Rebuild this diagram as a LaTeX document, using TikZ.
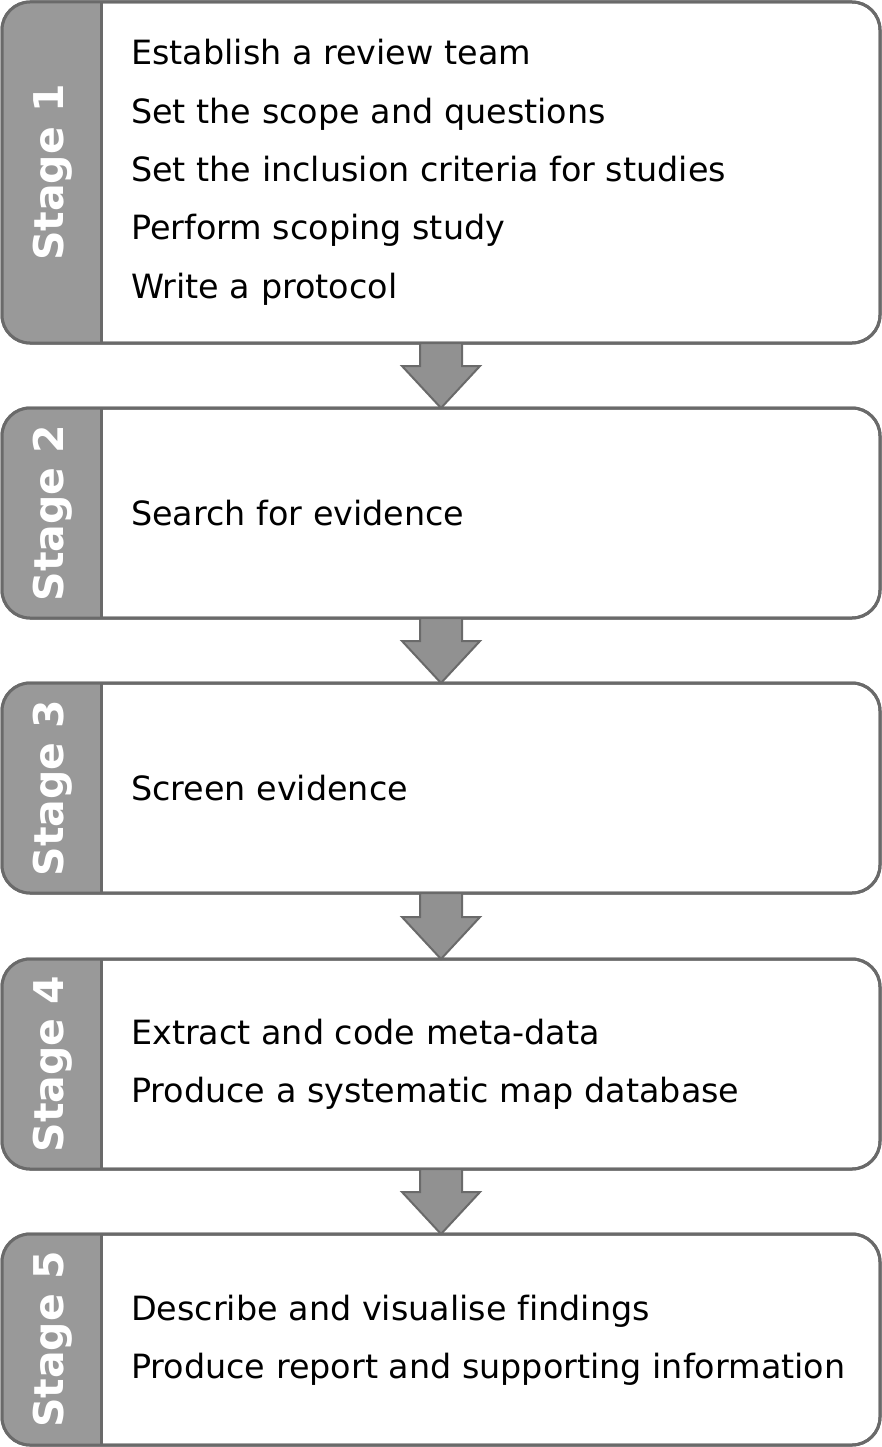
\documentclass[tikz,border=0pt]{standalone}
\usepackage{fontspec}
\setmainfont{DejaVu Sans}[Ligatures=CommonOff]
\usetikzlibrary{calc}
\definecolor{edgegray}{RGB}{106,106,106}
\definecolor{tabgray}{RGB}{153,153,153}
\definecolor{arrowgray}{RGB}{145,145,145}
\tikzset{
  boxshape/.style={rectangle, draw=edgegray, line width=3pt, fill=white, rounded corners=28pt, minimum width=878pt, inner sep=0pt, outer sep=0pt},
  edge/.style={draw=edgegray, line width=3pt},
  stagelabel/.style={rotate=90, anchor=base, text=white, font=\bfseries\fontsize{41}{41}\selectfont, inner sep=0pt},
  itemtext/.style={anchor=base west, font=\fontsize{33.4}{33.4}\selectfont, inner sep=0pt, text=black},
  blockarrow/.style={fill=arrowgray, draw=edgegray, line width=2pt, line join=miter}
}
\newcommand\stagebox[4]{%
  \node[boxshape, minimum height=#3pt] (#1) at (441,#2) {};
  \begin{scope}
    \clip[rounded corners=28pt] (#1.north west) rectangle (#1.south east);
    \fill[tabgray] (#1.north west) rectangle ($(#1.south west)+(99,0)$);
  \end{scope}
  \draw[edge] ($(#1.north west)+(99,0)$) -- ($(#1.south west)+(99,0)$);
  \draw[edge, rounded corners=28pt] (#1.north west) rectangle (#1.south east);
  \node[stagelabel] (#1l) at ($(#1.west)+(61,0)$) {#4};
}
\newcommand\stagearrow[2]{%
  \draw[blockarrow] ($(#1.south)+(-21,0)$) -- ($(#2.north)+(-21,-42)$) -- ($(#2.north)+(-39,-42)$) -- (#2.north) -- ($(#2.north)+(39,-42)$) -- ($(#2.north)+(21,-42)$) -- ($(#1.south)+(21,0)$) -- cycle;
}
\begin{document}
\begin{tikzpicture}[x=1pt,y=-1pt]
\useasboundingbox (0,0) rectangle (882,1447);
\stagebox{s1}{172.5}{341}{Stage 1}
\stagebox{s2}{513}{210}{Stage 2}
\stagebox{s3}{788}{210}{Stage 3}
\stagebox{s4}{1064}{210}{Stage 4}
\stagebox{s5}{1339.5}{211}{Stage 5}
\stagearrow{s1}{s2}
\stagearrow{s2}{s3}
\stagearrow{s3}{s4}
\stagearrow{s4}{s5}
\node[itemtext] (t1a) at (131,65) {Establish a review team};
\node[itemtext] (t1b) at (131,123.3) {Set the scope and questions};
\node[itemtext] (t1c) at (131,181.6) {Set the inclusion criteria for studies};
\node[itemtext] (t1d) at (131,239.9) {Perform scoping study};
\node[itemtext] (t1e) at (131,298.2) {Write a protocol};
\node[itemtext] (t2a) at (131,525) {Search for evidence};
\node[itemtext] (t3a) at (131,800) {Screen evidence};
\node[itemtext] (t4a) at (131,1044) {Extract and code meta-data};
\node[itemtext] (t4b) at (131,1102) {Produce a systematic map database};
\node[itemtext] (t5a) at (131,1320) {Describe and visualise findings};
\node[itemtext] (t5b) at (131,1378) {Produce report and supporting information};
\end{tikzpicture}
\end{document}
